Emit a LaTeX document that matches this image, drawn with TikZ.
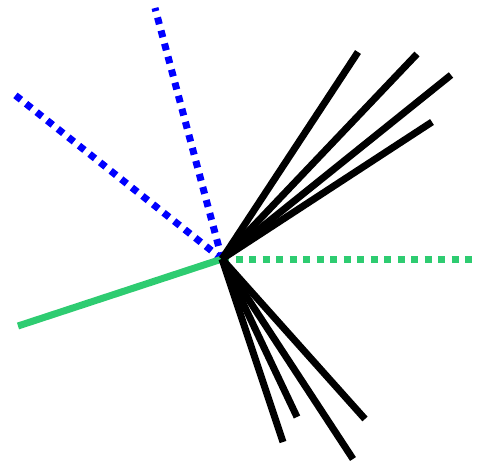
\documentclass[tikz,border=0pt]{standalone}
\usepackage{xcolor}
\usetikzlibrary{positioning}

\definecolor{rayblue}{RGB}{0,0,255}
\definecolor{raygreen}{RGB}{46,204,113}

\tikzset{
  ray/.style={line width=7pt},
  dotray/.style={line width=7pt, dash pattern=on 7pt off 6.5pt},
}

\begin{document}
\begin{tikzpicture}[x=1pt, y=-1pt]
                \useasboundingbox (0,0) rectangle (478,465);

                % Punto central y extremos de los rayos
                \coordinate (C) at (222,259);
                \coordinate (B1) at (155,8);
                \coordinate (B2) at (15,95);
                \coordinate (G1) at (18,326);
                \coordinate (G2) at (473,259);

                % Rayos punteados azules
                \draw[dotray, rayblue] (C) -- (B1);
                \draw[dotray, rayblue] (C) -- (B2);

                % Rayos verdes
                \draw[ray, raygreen] (C) -- (G1);
                \draw[dotray, raygreen] (C) -- (G2);

                % Haz de rayos negros
                \foreach \px/\py [count=\i] in {358/52, 417/54, 451/75, 432/122,
                                                 283/442, 297/417, 353/459, 365/419}
                  \draw[ray, black] (C) -- (\px,\py) coordinate (K\i);
            \end{tikzpicture}
\end{document}
